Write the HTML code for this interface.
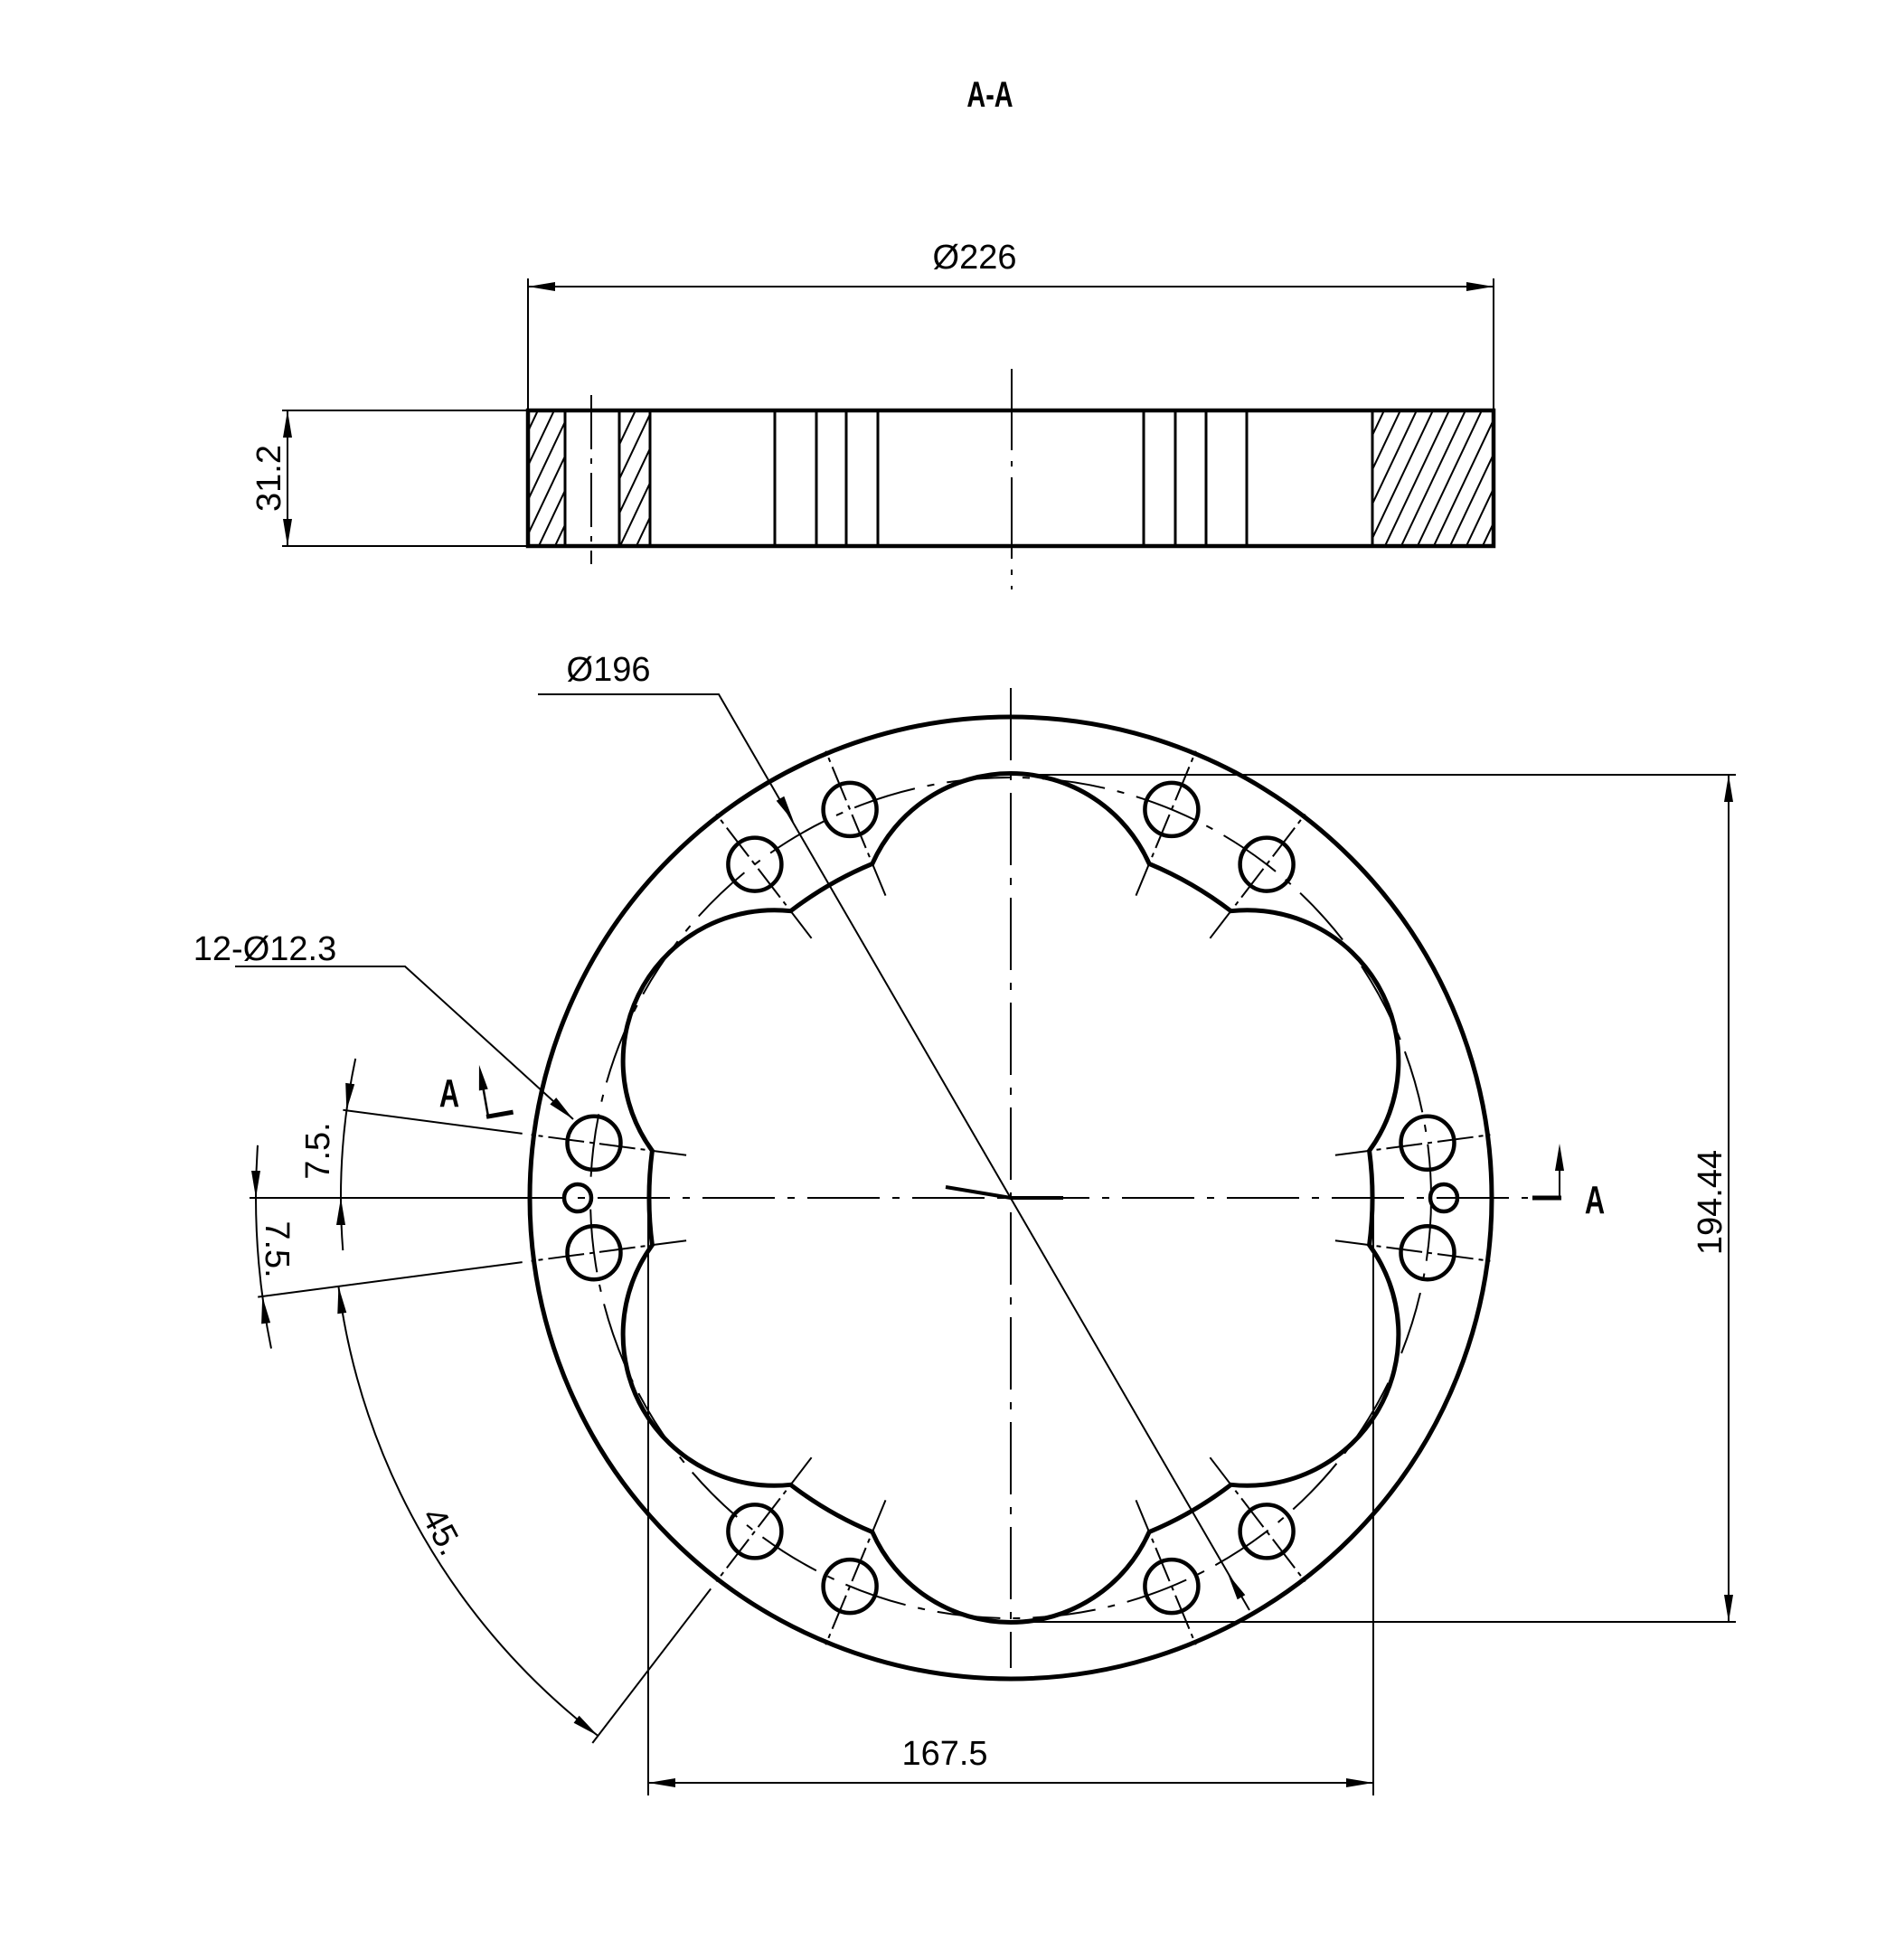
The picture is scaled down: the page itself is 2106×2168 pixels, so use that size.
<!DOCTYPE html>
<html><head><meta charset="utf-8"><style>
html,body{margin:0;padding:0;background:#fff}
svg{display:block}
text{font-family:"Liberation Sans",sans-serif;fill:#000}
</style></head><body>
<svg width="2106" height="2168" viewBox="0 0 2106 2168" xmlns="http://www.w3.org/2000/svg">
<defs>
<pattern id="h" patternUnits="userSpaceOnUse" width="18" height="38">
<line x1="0" y1="38" x2="18" y2="0" stroke="#000" stroke-width="2"/>
<line x1="-3" y1="6.3" x2="3" y2="-6.3" stroke="#000" stroke-width="2"/>
<line x1="15" y1="44.3" x2="21" y2="31.7" stroke="#000" stroke-width="2"/>
</pattern>
</defs>
<rect width="2106" height="2168" fill="#fff"/>

<text x="1095" y="118" font-size="40" font-weight="bold" text-anchor="middle" transform="translate(1095 0) scale(0.72 1) translate(-1095 0)">A-A</text>

<g stroke="#000" fill="none">
<rect x="584" y="454" width="41" height="150" fill="url(#h)" stroke="none"/>
<rect x="685" y="454" width="34" height="150" fill="url(#h)" stroke="none"/>
<rect x="1518" y="454" width="134" height="150" fill="url(#h)" stroke="none"/>
<rect x="584" y="454" width="1068" height="150" stroke-width="4.5"/>
<g stroke-width="3">
<line x1="625" y1="454" x2="625" y2="604"/><line x1="685" y1="454" x2="685" y2="604"/>
<line x1="719" y1="454" x2="719" y2="604"/><line x1="1518" y1="454" x2="1518" y2="604"/>
<line x1="857" y1="454" x2="857" y2="604"/><line x1="903" y1="454" x2="903" y2="604"/>
<line x1="936" y1="454" x2="936" y2="604"/><line x1="971" y1="454" x2="971" y2="604"/>
<line x1="1265" y1="454" x2="1265" y2="604"/><line x1="1300" y1="454" x2="1300" y2="604"/>
<line x1="1334" y1="454" x2="1334" y2="604"/><line x1="1379" y1="454" x2="1379" y2="604"/>
</g>
<g stroke-width="2">
<line x1="654" y1="437" x2="654" y2="624" stroke-dasharray="60 10 6 10"/>
<line x1="1119" y1="408" x2="1119" y2="652" stroke-dasharray="90 12 6 12"/>
<line x1="312" y1="454" x2="584" y2="454"/><line x1="312" y1="604" x2="584" y2="604"/>
<line x1="318" y1="454" x2="318" y2="604"/>
<line x1="584" y1="308" x2="584" y2="454"/><line x1="1652" y1="308" x2="1652" y2="454"/>
<line x1="584" y1="317" x2="1652" y2="317"/>
</g>
</g>
<g fill="#000">
<polygon points="584,317 614,312 614,322"/><polygon points="1652,317 1622,312 1622,322"/>
<polygon points="318,454 313,484 323,484"/><polygon points="318,604 313,574 323,574"/>
</g>
<text x="1078" y="297" font-size="38" text-anchor="middle">Ø226</text>
<text x="0" y="0" font-size="38" text-anchor="middle" transform="translate(310 529) rotate(-90)">31.2</text>

<g stroke="#000" fill="none">
<circle cx="1118" cy="1325" r="532" stroke-width="5"/>
<path stroke-width="5" d="M1514.6,1377.2 A400,400 0 0 0 1514.6,1272.8 A167.3,167.3 0 0 0 1361.5,1007.7 A400,400 0 0 0 1271.1,955.4 A167.3,167.3 0 0 0 964.9,955.4 A400,400 0 0 0 874.5,1007.7 A167.3,167.3 0 0 0 721.4,1272.8 A400,400 0 0 0 721.4,1377.2 A167.3,167.3 0 0 0 874.5,1642.3 A400,400 0 0 0 964.9,1694.6 A167.3,167.3 0 0 0 1271.1,1694.6 A400,400 0 0 0 1361.5,1642.3 A167.3,167.3 0 0 0 1514.6,1377.2 Z"/>
<circle cx="1118" cy="1325" r="465" stroke-width="2" stroke-dasharray="70 14 8 14"/>
<g stroke-width="4.5">
<circle cx="1579" cy="1264.3" r="29.5"/><circle cx="1579" cy="1385.7" r="29.5"/>
<circle cx="1401.1" cy="956.1" r="29.5"/><circle cx="1295.9" cy="895.4" r="29.5"/>
<circle cx="940.1" cy="895.4" r="29.5"/><circle cx="834.9" cy="956.1" r="29.5"/>
<circle cx="657" cy="1264.3" r="29.5"/><circle cx="657" cy="1385.7" r="29.5"/>
<circle cx="834.9" cy="1693.9" r="29.5"/><circle cx="940.1" cy="1754.6" r="29.5"/>
<circle cx="1295.9" cy="1754.6" r="29.5"/><circle cx="1401.1" cy="1693.9" r="29.5"/>
<circle cx="1597" cy="1325" r="15"/><circle cx="639" cy="1325" r="15"/>
</g>
<g stroke-width="2" stroke-dasharray="40 6 5 6">
<line x1="1476.9" y1="1277.8" x2="1648.4" y2="1255.2"/><line x1="1476.9" y1="1372.2" x2="1648.4" y2="1394.8"/>
<line x1="1338.4" y1="1037.8" x2="1443.7" y2="900.6"/><line x1="1256.5" y1="990.6" x2="1322.7" y2="830.7"/>
<line x1="979.5" y1="990.6" x2="913.3" y2="830.7"/><line x1="897.6" y1="1037.8" x2="792.3" y2="900.6"/>
<line x1="759.1" y1="1277.8" x2="587.6" y2="1255.2"/><line x1="759.1" y1="1372.2" x2="587.6" y2="1394.8"/>
<line x1="897.6" y1="1612.2" x2="792.3" y2="1749.4"/><line x1="979.5" y1="1659.4" x2="913.3" y2="1819.3"/>
<line x1="1256.5" y1="1659.4" x2="1322.7" y2="1819.3"/><line x1="1338.4" y1="1612.2" x2="1443.7" y2="1749.4"/>
</g>
<g stroke-width="2">
<line x1="1118" y1="761" x2="1118" y2="1845" stroke-dasharray="80 14 8 14"/>
<line x1="545" y1="1325" x2="1690" y2="1325" stroke-dasharray="80 14 8 14"/>
<line x1="276" y1="1325" x2="545" y2="1325"/>
<polyline points="595,768 795,768 1382,1781"/>
<polyline points="260,1069 448,1069 634,1238"/>
<line x1="577.7" y1="1253.9" x2="379.4" y2="1227.8"/>
<line x1="577.7" y1="1396.1" x2="285.2" y2="1434.6"/>
<line x1="786.2" y1="1757.4" x2="655.3" y2="1928"/>
<path d="M393.2,1170.9 A741,741 0 0 0 379.3,1383.1"/>
<path d="M285,1266.8 A835,835 0 0 0 300,1491.6"/>
<path d="M374.4,1422.9 A750,750 0 0 0 661.4,1920"/>
<line x1="1130" y1="857" x2="1920" y2="857"/><line x1="1130" y1="1794" x2="1920" y2="1794"/>
<line x1="1912" y1="857" x2="1912" y2="1794"/>
<line x1="717" y1="1340" x2="717" y2="1986"/><line x1="1519" y1="1340" x2="1519" y2="1986"/>
<line x1="717" y1="1972" x2="1519" y2="1972"/>
<line x1="1725" y1="1325" x2="1725" y2="1290"/>
</g>
<line x1="1046" y1="1313" x2="1118" y2="1325" stroke-width="4"/>
<line x1="1118" y1="1325" x2="1176" y2="1325" stroke-width="4"/>
<line x1="1695" y1="1325" x2="1727" y2="1325" stroke-width="5"/>
<g transform="rotate(-10 540 1235)">
<line x1="540" y1="1237" x2="540" y2="1200" stroke-width="2.5"/>
<line x1="538" y1="1235" x2="568" y2="1235" stroke-width="5"/>
<polygon points="540,1177 535,1205 545,1205" fill="#000" stroke="none"/>
</g>
</g>
<g fill="#000">
<polygon points="878,909.3 858.7,885.8 867.3,880.8"/>
<polygon points="1358,1740.7 1377.3,1764.2 1368.7,1769.2"/>
<polygon points="634,1238 608.4,1221.5 615.2,1214.1"/>
<polygon points="383.3,1228.3 392.2,1199.3 382.2,1197.9"/>
<polygon points="377,1325 372,1355 382,1355"/>
<polygon points="283,1325 278,1295 288,1295"/>
<polygon points="290.2,1434 299.1,1463.1 289.1,1464.4"/>
<polygon points="374.4,1422.9 383.3,1452 373.3,1453.3"/>
<polygon points="661.4,1920 634.6,1905.7 640.6,1897.7"/>
<polygon points="1912,857 1907,887 1917,887"/>
<polygon points="1912,1794 1907,1764 1917,1764"/>
<polygon points="717,1972 747,1967 747,1977"/>
<polygon points="1519,1972 1489,1967 1489,1977"/>
<polygon points="1725,1265 1720,1295 1730,1295"/>
</g>

<text x="673" y="753" font-size="38" text-anchor="middle">Ø196</text>
<text x="293" y="1062" font-size="38" text-anchor="middle">12-Ø12.3</text>
<text x="1045" y="1952" font-size="38" text-anchor="middle">167.5</text>
<text x="0" y="0" font-size="38" text-anchor="middle" transform="translate(1904 1330) rotate(-90)">194.44</text>
<text x="0" y="0" font-size="38" text-anchor="middle" transform="translate(364 1273) rotate(-90)">7.5.</text>
<text x="0" y="0" font-size="38" text-anchor="middle" transform="translate(294 1382) rotate(90)">7.5.</text>
<text x="0" y="0" font-size="38" text-anchor="middle" transform="translate(478 1700) rotate(62)">45.</text>
<text x="1764" y="1342" font-size="44" font-weight="bold" text-anchor="middle" transform="translate(1764 0) scale(0.7 1) translate(-1764 0)">A</text>
<text x="497" y="1224" font-size="44" font-weight="bold" text-anchor="middle" transform="translate(497 0) scale(0.7 1) translate(-497 0)">A</text>
</svg>
</body></html>
